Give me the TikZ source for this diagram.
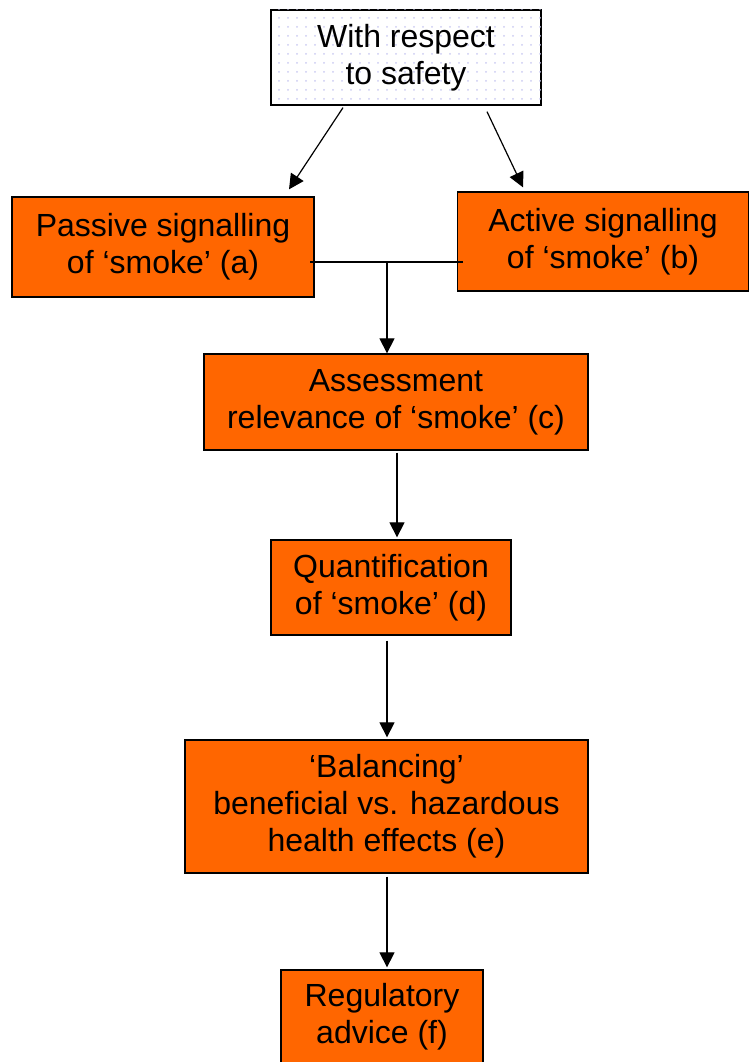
\documentclass[tikz,border=0pt]{standalone}
\usepackage{fontspec}
\setmainfont{Liberation Sans}
\usetikzlibrary{arrows.meta,patterns.meta}
\definecolor{boxorange}{HTML}{FF6600}
\definecolor{dotlav}{HTML}{CCCCF2}
\begin{document}
\begin{tikzpicture}[x=1pt,y=-1pt,
  stagebox/.style={draw=black,line width=1.3pt,fill=boxorange,inner sep=0pt,
    align=center,font=\fontsize{32}{37}\selectfont},
  startbox/.style={stagebox,fill=white,
    postaction={pattern={Dots[distance=9pt,radius=1pt]},pattern color=dotlav}},
  flow/.style={line width=1.2pt,-{Triangle[length=15pt,width=15pt]}},
  link/.style={line width=1.2pt}]
\useasboundingbox (0,0) rectangle (749,1062);

\node[startbox,minimum width=270pt,minimum height=95pt] (top) at (406,57.5)
  {With respect\\to safety};
\node[stagebox,minimum width=302pt,minimum height=100pt] (a) at (163,247)
  {Passive signalling\\of ‘smoke’ (a)};
\node[stagebox,minimum width=291pt,minimum height=99pt] (b) at (603,241.5)
  {Active signalling\\of ‘smoke’ (b)};
\node[stagebox,minimum width=384pt,minimum height=96pt] (c) at (396,402)
  {Assessment\\relevance of ‘smoke’ (c)};
\node[stagebox,minimum width=240pt,minimum height=95pt] (d) at (391,587.5)
  {Quantification\\of ‘smoke’ (d)};
\node[stagebox,minimum width=403pt,minimum height=133pt] (e) at (386.5,806.5)
  {‘Balancing’\\beneficial vs. hazardous\\health effects (e)};
\node[stagebox,minimum width=202pt,minimum height=94pt] (f) at (382,1017)
  {Regulatory\\advice (f)};

% branches from the start box
\draw[flow] ([xshift=-63pt,yshift=-2pt]top.south) -- ([xshift=126pt,yshift=7pt]a.north);
\draw[flow] ([xshift=81pt,yshift=-6pt]top.south) -- ([xshift=-80pt,yshift=4pt]b.north);

% joining line between (a) and (b)
\coordinate (ja) at (310,262);
\coordinate (jb) at (463,262);
\coordinate (j) at (387,262);
\draw[link] (ja) -- (jb);
\draw[flow] (j) -- (j |- c.north);

% main chain
\draw[flow] ([xshift=1pt,yshift=-2pt]c.south) -- ([xshift=6pt,yshift=2pt]d.north);
\draw[flow] ([xshift=-4pt,yshift=-5pt]d.south) -- ([xshift=0.5pt,yshift=2pt]e.north);
\draw[flow] ([xshift=0.5pt,yshift=-3pt]e.south) -- ([xshift=5pt,yshift=2pt]f.north);
\end{tikzpicture}
\end{document}
